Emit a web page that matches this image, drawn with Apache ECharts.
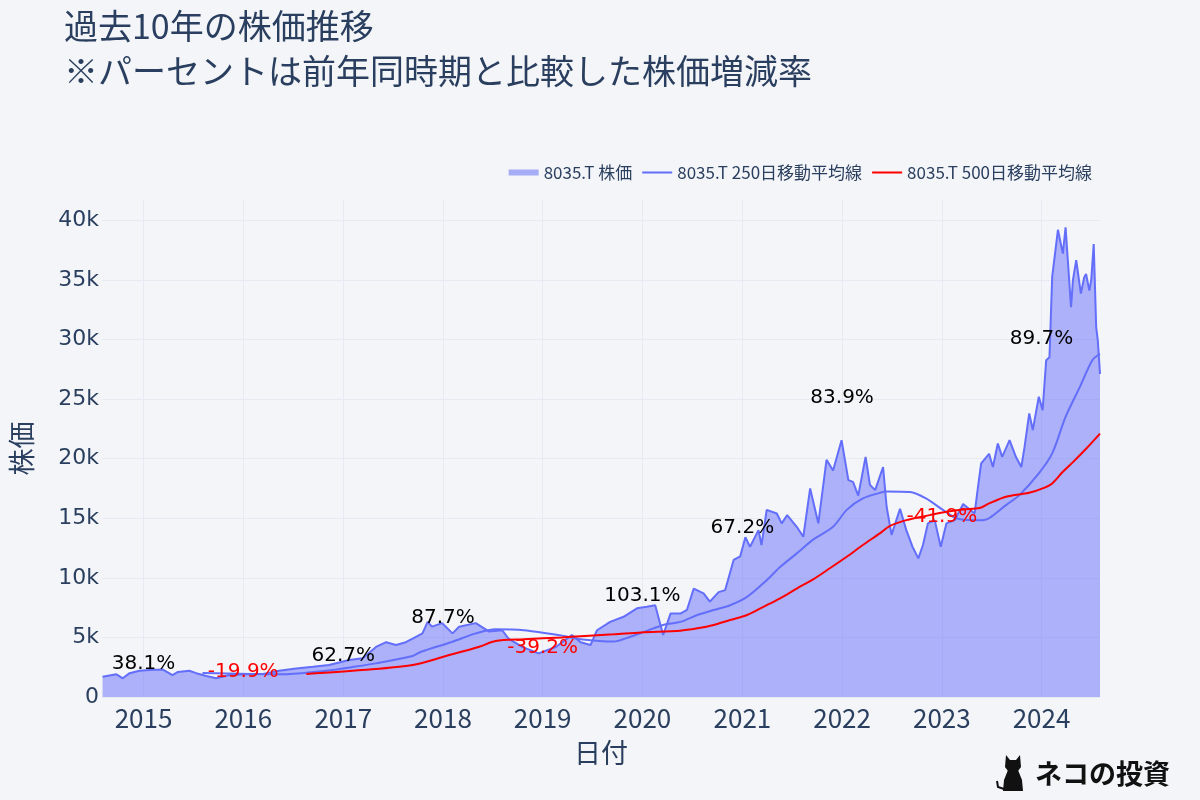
<!DOCTYPE html>
<html>
<head>
<meta charset="utf-8">
<script src="https://cdn.jsdelivr.net/npm/echarts@6/dist/echarts.min.js"></script>
<style>
html, body { margin: 0; padding: 0; background: #F4F5F9; }
#main { width: 1200px; height: 800px; }
</style>
</head>
<body>
<div id="main"></div>
<script>
// 株価 (8035.T)
var priceDates = [
  '2014-08-04', '2014-09-24', '2014-10-17', '2014-11-11', '2014-12-17', '2015-01-23', '2015-03-13', '2015-04-17',
  '2015-05-07', '2015-06-17', '2015-07-13', '2015-08-19', '2015-09-24', '2015-11-11', '2016-01-12', '2016-03-14',
  '2016-05-11', '2016-07-13', '2016-09-12', '2016-11-10', '2017-01-23', '2017-03-13', '2017-05-01', '2017-06-07',
  '2017-07-13', '2017-08-18', '2017-09-12', '2017-10-18', '2017-11-06', '2017-11-22', '2017-12-29', '2018-02-05',
  '2018-03-01', '2018-05-01', '2018-06-18', '2018-08-06', '2018-08-29', '2018-10-18', '2018-12-17', '2019-02-18',
  '2019-04-18', '2019-05-20', '2019-06-25', '2019-07-19', '2019-09-05', '2019-10-24', '2019-12-12', '2020-01-17',
  '2020-02-17', '2020-03-17', '2020-04-13', '2020-05-19', '2020-06-12', '2020-07-07', '2020-08-12', '2020-09-04',
  '2020-10-06', '2020-10-30', '2020-11-30', '2020-12-24', '2021-01-12', '2021-01-29', '2021-03-01', '2021-03-12',
  '2021-03-31', '2021-05-07', '2021-05-25', '2021-06-14', '2021-07-19', '2021-08-12', '2021-09-06', '2021-10-06',
  '2021-11-05', '2021-11-29', '2021-12-30', '2022-01-24', '2022-02-10', '2022-03-01', '2022-03-28', '2022-04-13',
  '2022-05-02', '2022-05-31', '2022-06-13', '2022-07-01', '2022-08-01', '2022-08-24', '2022-09-16', '2022-10-07',
  '2022-10-24', '2022-11-11', '2022-12-06', '2022-12-28', '2023-01-18', '2023-02-17', '2023-03-20', '2023-05-01',
  '2023-05-15', '2023-05-25', '2023-06-23', '2023-07-07', '2023-07-25', '2023-08-10', '2023-09-06', '2023-09-29',
  '2023-10-19', '2023-10-31', '2023-11-17', '2023-11-30', '2023-12-22', '2024-01-05', '2024-01-18', '2024-01-30',
  '2024-02-09', '2024-03-01', '2024-03-19', '2024-03-29', '2024-04-18', '2024-04-25', '2024-05-07', '2024-05-24',
  '2024-06-05', '2024-06-12', '2024-06-24', '2024-07-01', '2024-07-10', '2024-07-19', '2024-07-25', '2024-08-02'
];
var priceValues = [
  1700, 1900, 1570, 2000, 2200, 2260, 2300, 1840,
  2100, 2200, 2000, 1760, 1570, 1840, 1900, 1930,
  2200, 2400, 2540, 2680, 3100, 3250, 4200, 4600,
  4360, 4600, 4900, 5340, 6300, 5900, 6200, 5340,
  5900, 6200, 5500, 5600, 4900, 4200, 3660, 4200,
  5200, 4600, 4360, 5600, 6300, 6730, 7440, 7570,
  7700, 5200, 7000, 7000, 7300, 9100, 8700, 8000,
  8800, 8970, 11500, 11800, 13400, 12600, 14000, 12750,
  15700, 15400, 14570, 15260, 14280, 13440, 17500, 14570,
  19900, 19000, 21550, 18200, 18050, 16900, 20150, 17800,
  17360, 19300, 15960, 13600, 15800, 14000, 12600, 11630,
  12750, 14570, 14840, 12600, 14570, 14840, 16200, 15400,
  17900, 19600, 20400, 19300, 21270, 20150, 21550, 20150,
  19300, 21000, 23800, 22400, 25200, 24070, 28260, 28500,
  35250, 39200, 37200, 39400, 32700, 35000, 36650, 33850,
  35200, 35500, 34100, 35000, 38000, 31050, 29900, 27100
];

// 250日移動平均線
var ma250Dates = [
  '2015-08-05', '2015-11-02', '2016-02-01', '2016-05-02', '2016-08-01', '2016-11-01', '2017-02-01', '2017-05-01',
  '2017-09-12', '2017-10-13', '2018-02-05', '2018-05-01', '2018-07-13', '2018-10-24', '2019-03-13', '2019-05-20',
  '2019-09-18', '2019-11-18', '2019-12-24', '2020-02-11', '2020-03-31', '2020-05-19', '2020-07-20', '2020-09-18',
  '2020-11-17', '2021-01-18', '2021-03-31', '2021-05-19', '2021-07-19', '2021-09-17', '2021-11-29', '2022-01-18',
  '2022-03-18', '2022-05-19', '2022-06-13', '2022-09-06', '2022-11-04', '2023-01-05', '2023-02-23', '2023-04-24',
  '2023-05-31', '2023-06-23', '2023-08-24', '2023-10-12', '2023-12-22', '2024-02-09', '2024-03-29', '2024-05-20',
  '2024-07-05', '2024-08-02'
];
var ma250Values = [
  2020, 1980, 1940, 1900, 2000, 2200, 2500, 2820,
  3440, 3800, 4640, 5340, 5680, 5600, 5150, 4850,
  4650, 5060, 5340, 5760, 6120, 6300, 6880, 7300,
  7700, 8400, 9800, 10900, 12050, 13200, 14280, 15700,
  16660, 17130, 17250, 17200, 16660, 15700, 15000, 14840,
  14840, 15000, 16100, 16940, 18760, 20440, 23500, 26000,
  28260, 28800
];

// 500日移動平均線
var ma500Dates = [
  '2016-08-19', '2017-03-13', '2017-09-12', '2018-01-12', '2018-05-14', '2018-07-13', '2018-10-24', '2019-03-13',
  '2019-05-20', '2019-09-18', '2019-12-27', '2020-05-19', '2020-07-20', '2020-09-18', '2020-11-17', '2021-01-18',
  '2021-03-19', '2021-05-19', '2021-07-19', '2021-09-17', '2021-11-17', '2022-01-18', '2022-03-18', '2022-05-19',
  '2022-06-24', '2022-08-24', '2022-11-18', '2023-01-18', '2023-03-20', '2023-05-19', '2023-06-23', '2023-08-24',
  '2023-11-17', '2024-01-05', '2024-02-09', '2024-03-19', '2024-04-26', '2024-06-13', '2024-08-02'
];
var ma500Values = [
  1930, 2260, 2680, 3440, 4220, 4700, 4840, 5000,
  5100, 5260, 5420, 5560, 5760, 6040, 6460, 6880,
  7570, 8280, 9100, 9870, 10800, 11770, 12750, 13730,
  14340, 14840, 15260, 15540, 15740, 15850, 16240, 16800,
  17130, 17500, 17920, 18900, 19730, 20850, 22100
];

// 前年同時期比
var annoDates = ['2015-01-01', '2016-01-01', '2017-01-01', '2018-01-01', '2019-01-01',
                 '2020-01-01', '2021-01-01', '2022-01-01', '2023-01-01', '2024-01-01'];
var annoValues = [2770, 2120, 3460, 6670, 4150, 8500, 14210, 25070, 15120, 30020];
var annoLabels = ['38.1%', '-19.9%', '62.7%', '87.7%', '-39.2%', '103.1%', '67.2%', '83.9%', '-41.9%', '89.7%'];

var seriesNames = ['8035.T 株価', '8035.T 250日移動平均線', '8035.T 500日移動平均線'];

var textColor = '#2a3f5f';
var jpFont = '"Noto Sans CJK JP", sans-serif';
var numFont = '"DejaVu Sans", Verdana, sans-serif';
var lineIcon = 'path://M0,2L30,2L30,4L0,4Z M0,0L0.01,0L0.01,6L0,6Z';

function pairs(dates, values) {
  return dates.map(function (d, i) { return [d, values[i]]; });
}

// 増減率のラベル (増加: 黒, 減少: 赤)
function annoSeries(negative) {
  var data = [];
  annoDates.forEach(function (d, i) {
    if ((annoLabels[i].charAt(0) === '-') === negative) {
      data.push({ name: annoLabels[i], value: [d, annoValues[i]] });
    }
  });
  return {
    name: negative ? 'down' : 'up',
    type: 'scatter',
    symbolSize: 1,
    silent: true,
    itemStyle: { color: 'rgba(0,0,0,0)' },
    label: {
      show: true, position: 'inside', formatter: '{b}', fontSize: 20, fontFamily: numFont,
      color: negative ? '#FF0000' : '#000000', textBorderWidth: 0, opacity: 1
    },
    data: data,
    z: 10
  };
}

var myChart = echarts.init(document.getElementById('main'));
var option = {
  backgroundColor: '#F4F5F9',
  animation: false,
  title: {
    text: '過去10年の株価推移\n※パーセントは前年同時期と比較した株価増減率',
    left: 59,
    top: -1,
    textStyle: { fontSize: 34, lineHeight: 45, fontWeight: 'normal', color: textColor, fontFamily: jpFont }
  },
  legend: {
    right: 103,
    top: 159,
    itemWidth: 30,
    itemHeight: 6,
    itemGap: 10,
    symbolKeepAspect: false,
    itemStyle: { borderWidth: 0 },
    textStyle: { fontSize: 17, color: textColor, fontFamily: jpFont },
    data: [
      { name: seriesNames[0], icon: 'rect', itemStyle: { color: '#A6ADF7' } },
      { name: seriesNames[1], icon: lineIcon, itemStyle: { color: '#636EFA' } },
      { name: seriesNames[2], icon: lineIcon, itemStyle: { color: '#FF0000' } }
    ]
  },
  grid: { left: 100, right: 100, top: 200, bottom: 103 },
  xAxis: {
    type: 'time',
    min: '2014-08-02',
    max: '2024-08-02',
    splitNumber: 10,
    minInterval: 365 * 24 * 3600 * 1000,
    maxInterval: 366 * 24 * 3600 * 1000,
    name: '日付',
    nameLocation: 'middle',
    nameGap: 42,
    nameTextStyle: { fontSize: 27, color: textColor, fontFamily: jpFont },
    axisLine: { show: false },
    axisTick: { show: false },
    axisLabel: {
      margin: 8,
      fontSize: 26,
      color: textColor,
      fontFamily: jpFont,
      formatter: function (val) {
        var d = new Date(val);
        return (d.getMonth() === 0 && d.getDate() === 1) ? String(d.getFullYear()) : '';
      }
    },
    splitLine: { show: true, showMinLine: false, showMaxLine: false, lineStyle: { color: '#E6EBF3', width: 1 } }
  },
  yAxis: {
    type: 'value',
    min: 0,
    max: 41700,
    interval: 5000,
    name: '株価',
    nameLocation: 'middle',
    nameGap: 67,
    nameTextStyle: { fontSize: 27, color: textColor, fontFamily: jpFont },
    axisLine: { show: false },
    axisTick: { show: false },
    axisLabel: {
      margin: 3,
      fontSize: 22,
      color: textColor,
      fontFamily: numFont,
      showMaxLabel: false,
      formatter: function (v) {
        if (v % 5000 !== 0) return '';
        return v === 0 ? '0' : (v / 1000) + 'k';
      }
    },
    splitLine: { show: true, showMaxLine: false, lineStyle: { color: '#E6EBF3', width: 1 } }
  },
  series: [
    {
      name: seriesNames[0],
      type: 'line',
      symbol: 'none',
      data: pairs(priceDates, priceValues),
      lineStyle: { color: '#636EFA', width: 2 },
      itemStyle: { color: '#636EFA' },
      areaStyle: { color: '#636EFA', opacity: 0.5 },
      z: 2
    },
    {
      name: seriesNames[1],
      type: 'line',
      symbol: 'none',
      smooth: 0.3,
      data: pairs(ma250Dates, ma250Values),
      lineStyle: { color: '#636EFA', width: 2 },
      itemStyle: { color: '#636EFA' },
      z: 3
    },
    {
      name: seriesNames[2],
      type: 'line',
      symbol: 'none',
      smooth: 0.3,
      data: pairs(ma500Dates, ma500Values),
      lineStyle: { color: '#FF0000', width: 2 },
      itemStyle: { color: '#FF0000' },
      z: 4
    },
    annoSeries(false),
    annoSeries(true)
  ],
  graphic: [
    { type: 'polygon', shape: { points: [[1005, 767], [1006, 755], [1010, 760], [1016, 760], [1020, 755], [1021, 767], [1018, 771], [1008, 771]] }, style: { fill: '#111' } },
    { type: 'polygon', shape: { points: [[1008, 770], [1018, 770], [1022, 780], [1023, 791], [1003, 791], [1004, 780]] }, style: { fill: '#111' } },
    { type: 'polyline', shape: { points: [[1004, 789], [998, 787], [997, 781]] }, style: { stroke: '#111', lineWidth: 2, fill: null } },
    { type: 'text', left: 1035, top: 760, style: { text: 'ネコの投資', fontSize: 27, fontWeight: 'bold', fill: '#111', fontFamily: jpFont } }
  ]
};
myChart.setOption(option);
</script>
</body>
</html>
